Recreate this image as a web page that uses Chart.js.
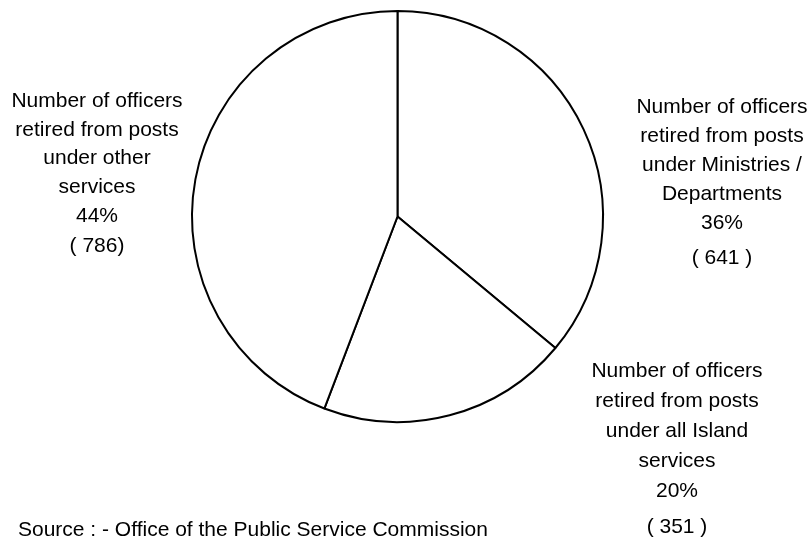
<!DOCTYPE html>
<html>
<head>
<meta charset="utf-8">
<script src="https://cdn.jsdelivr.net/npm/chart.js@4/dist/chart.umd.min.js"></script>
<style>
  html, body { margin: 0; padding: 0; background: #fff; }
  #wrap { width: 811px; height: 544px; position: relative; }
</style>
</head>
<body>
<div id="wrap"><canvas id="graph"></canvas></div>
<script>
const categories = [
  ["Number of officers", "retired from posts", "under Ministries /", "Departments"],
  ["Number of officers", "retired from posts", "under all Island", "services"],
  ["Number of officers", "retired from posts", "under other", "services"],
];
const counts = [641, 351, 786];
const percents = ["36%", "20%", "44%"];
const countLabels = ["( 641 )", "( 351 )", "( 786)"];
const source = "Source : - Office of the Public Service Commission";

// where each text block sits: centre x, first baseline, line step, gap before count
const labelPos = [
  { x: 722, y: 113, step: 29, gap: 35 },
  { x: 677, y: 377, step: 30, gap: 36 },
  { x: 97, y: 107, step: 28.7, gap: 30 },
];

const FONT = '21px "Liberation Sans", Arial, sans-serif';

const textPlugin = {
  id: "textLabels",
  afterDraw(chart) {
    const c = chart.ctx;
    c.save();
    c.fillStyle = "#000";
    c.font = FONT;
    c.textAlign = "center";
    c.textBaseline = "alphabetic";
    categories.forEach((lines, i) => {
      const p = labelPos[i];
      const all = lines.concat([percents[i]]);
      all.forEach((t, j) => c.fillText(t, p.x, p.y + j * p.step));
      c.fillText(countLabels[i], p.x, p.y + (all.length - 1) * p.step + p.gap);
    });
    c.textAlign = "left";
    c.fillText(source, 18, 536);
    c.restore();
  },
};

new Chart(document.getElementById("graph"), {
  type: "pie",
  data: {
    labels: categories.map((l) => l.join(" ")),
    datasets: [
      {
        data: counts,
        backgroundColor: "#fff",
        borderColor: "#000",
        borderWidth: 2,
      },
    ],
  },
  options: {
    responsive: true,
    maintainAspectRatio: false,
    animation: false,
    layout: {
      padding: { left: 191, right: 207, top: 10, bottom: 121 },
    },
    plugins: {
      legend: { display: false },
      tooltip: { enabled: false },
    },
  },
  plugins: [textPlugin],
});
</script>
</body>
</html>
